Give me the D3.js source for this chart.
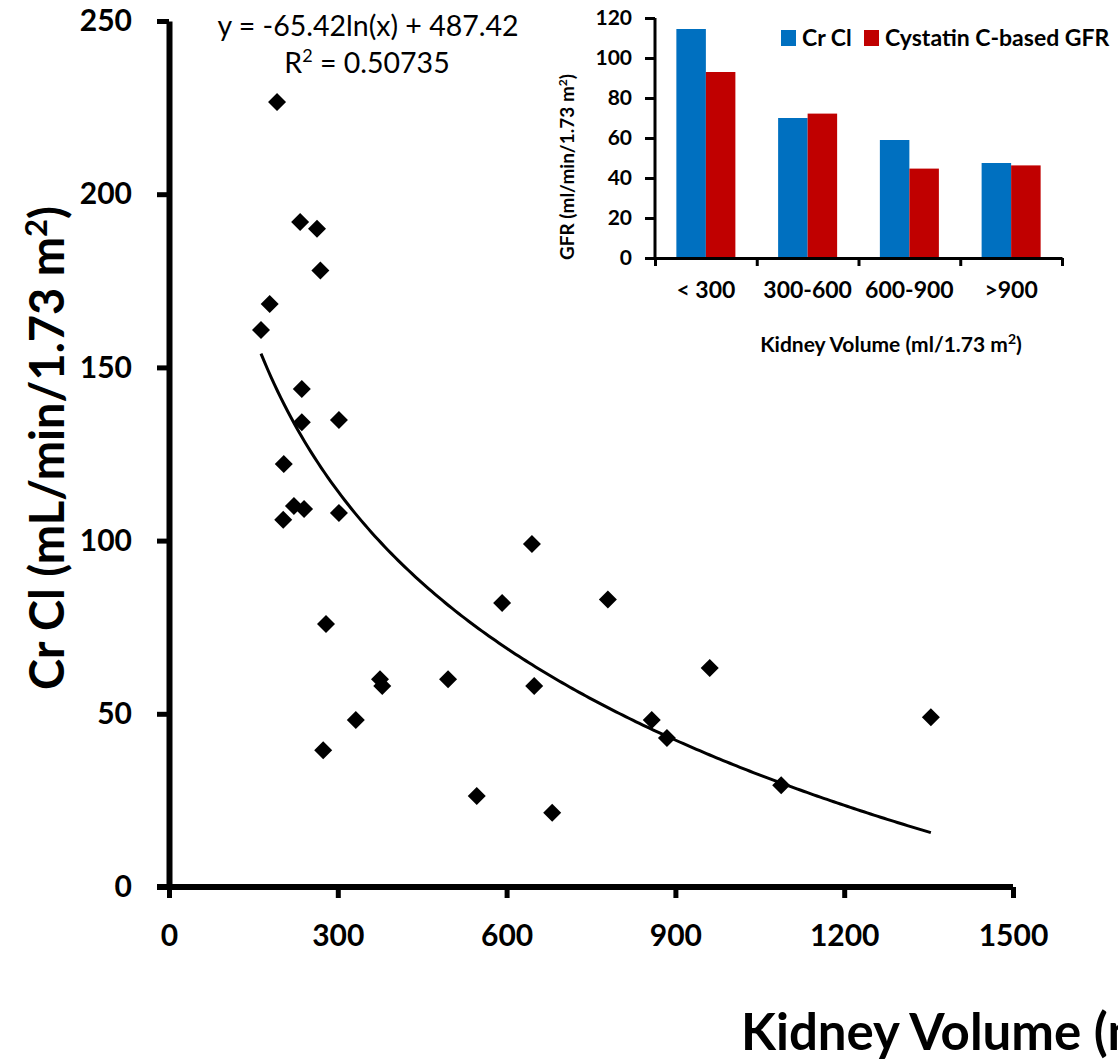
<!DOCTYPE html>
<html>
<head>
<meta charset="utf-8">
<script src="https://cdn.jsdelivr.net/npm/d3@7"></script>
<style>
  body { margin: 0; background: #fff; overflow: hidden; }
  svg { display: block; font-family: Lato, "Open Sans", sans-serif; }
</style>
</head>
<body>
<svg width="1118" height="1061"></svg>
<script>
// scatter data: kidney volume vs creatinine clearance
var volume = [192, 233, 263, 269, 179, 163.5, 236, 236, 302, 204, 222, 240, 203, 302, 279,
              645, 592, 780, 375, 379, 496, 649, 332, 274, 547, 681, 961, 858, 885, 1088, 1354];
var crcl = [226.6, 192, 190, 178, 168.3, 160.8, 143.8, 134.2, 134.8, 122.1, 110, 109.1, 106, 108, 75.9,
            99, 82, 83, 60, 58, 60, 58, 48.2, 39.5, 26.3, 21.4, 63.2, 48.2, 43, 29.4, 49];
var xTicks = [0, 300, 600, 900, 1200, 1500];
var yTicks = [0, 50, 100, 150, 200, 250];
// log trendline  y = a ln(x) + b
var trendA = -65.42, trendB = 487.42;

// inset bar chart
var groups = ['< 300', '300-600', '600-900', '>900'];
var seriesNames = ['Cr Cl', 'Cystatin C-based GFR'];
var crclMean = [114.5, 70, 59, 47.5];
var cystatinMean = [93, 72.2, 44.7, 46.3];
var insetTicks = [0, 20, 40, 60, 80, 100, 120];
var colors = ['#0070C0', '#C00000'];

var svg = d3.select('svg');
var FONT = 'Lato, "Open Sans", sans-serif';

// ---------- main scatter ----------
var x = d3.scaleLinear().domain([0, 1500]).range([169, 1013]);
var y = d3.scaleLinear().domain([0, 250]).range([887, 21]);

var yAxis = svg.append('g')
  .attr('transform', 'translate(169,0)')
  .call(d3.axisLeft(y).tickValues(yTicks).tickSize(12).tickSizeOuter(0).tickPadding(25).tickFormat(d3.format('d')));
var xAxis = svg.append('g')
  .attr('transform', 'translate(0,887)')
  .call(d3.axisBottom(x).tickValues(xTicks).tickSize(11).tickSizeOuter(0).tickPadding(27).tickFormat(d3.format('d')));

[yAxis, xAxis].forEach(function(ax){
  ax.attr('font-family', FONT);
  ax.select('.domain').attr('stroke', '#000').attr('stroke-width', 6);
  ax.selectAll('.tick line').attr('stroke', '#000').attr('stroke-width', 5);
  ax.selectAll('.tick text')
    .attr('fill', '#000')
    .style('font-size', '30px')
    .style('font-weight', 'bold');
});
xAxis.select('.domain').attr('d', 'M157,0H1013');

// trendline
var xs = d3.extent(volume);
var trendPts = d3.range(0, 201).map(function(i){
  var v = xs[0] + (xs[1] - xs[0]) * i / 200;
  return [v, trendA * Math.log(v) + trendB];
});
svg.append('path')
  .datum(trendPts)
  .attr('fill', 'none')
  .attr('stroke', '#000')
  .attr('stroke-width', 3)
  .attr('d', d3.line().x(function(d){ return x(d[0]); }).y(function(d){ return y(d[1]); }));

// diamonds
var diamond = d3.symbol().type(d3.symbolSquare).size(162);
svg.append('g').selectAll('path')
  .data(volume.map(function(v, i){ return [v, crcl[i]]; }))
  .enter().append('path')
  .attr('d', diamond)
  .attr('fill', '#000')
  .attr('transform', function(d){ return 'translate(' + x(d[0]) + ',' + y(d[1]) + ') rotate(45)'; });

// equation
svg.append('text')
  .attr('x', 368).attr('y', 36)
  .attr('text-anchor', 'middle')
  .style('font-size', '28.5px')
  .text('y = -65.42ln(x) + 487.42');
var r2 = svg.append('text')
  .attr('x', 367).attr('y', 73)
  .attr('text-anchor', 'middle')
  .style('font-size', '28.5px');
r2.append('tspan').text('R');
r2.append('tspan').attr('dy', -11).style('font-size', '18px').text('2');
r2.append('tspan').attr('dy', 11).text(' = 0.50735');

// axis titles
var yTitle = svg.append('text')
  .attr('transform', 'translate(64,448) rotate(-90)')
  .attr('text-anchor', 'middle')
  .style('font-size', '47px')
  .style('font-weight', 'bold');
yTitle.append('tspan').text('Cr Cl (mL/min/1.73 m');
yTitle.append('tspan').attr('dy', -17).style('font-size', '31px').text('2');
yTitle.append('tspan').attr('dy', 17).text(')');

var xTitle = svg.append('text')
  .attr('x', 741).attr('y', 1050)
  .style('font-size', '51px')
  .style('font-weight', 'bold');
xTitle.append('tspan').text('Kidney Volume (ml/1.73 m');
xTitle.append('tspan').attr('dy', -18).style('font-size', '33px').text('2');
xTitle.append('tspan').attr('dy', 18).text(')');

// ---------- inset bar chart ----------
var xb = d3.scaleBand().domain(groups).range([655, 1062]).paddingInner(0.42).paddingOuter(0.21);
var xs2 = d3.scaleBand().domain(seriesNames).range([0, xb.bandwidth()]);
var yb = d3.scaleLinear().domain([0, 120]).range([258, 18]);
var edges = d3.scaleLinear().domain([0, groups.length]).range([655, 1062]);

var inset = svg.append('g');
var barData = [];
groups.forEach(function(g, i){
  barData.push({g: g, s: seriesNames[0], v: crclMean[i], c: colors[0]});
  barData.push({g: g, s: seriesNames[1], v: cystatinMean[i], c: colors[1]});
});
inset.selectAll('rect.bar')
  .data(barData)
  .enter().append('rect')
  .attr('class', 'bar')
  .attr('x', function(d){ return xb(d.g) + xs2(d.s); })
  .attr('width', xs2.bandwidth())
  .attr('y', function(d){ return yb(d.v); })
  .attr('height', function(d){ return yb(0) - yb(d.v); })
  .attr('fill', function(d){ return d.c; });

var iy = inset.append('g')
  .attr('transform', 'translate(655,0)')
  .call(d3.axisLeft(yb).tickValues(insetTicks).tickSize(10).tickSizeOuter(0).tickPadding(13));
var ix = inset.append('g')
  .attr('transform', 'translate(0,258)')
  .call(d3.axisBottom(edges).tickValues(d3.range(0, groups.length + 1)).tickSize(8).tickSizeOuter(0).tickFormat(''));
var ixl = inset.append('g')
  .attr('transform', 'translate(0,258)')
  .call(d3.axisBottom(xb).tickSize(0).tickPadding(24));
ixl.select('.domain').remove();

[iy, ix].forEach(function(ax){
  ax.select('.domain').attr('stroke', '#000').attr('stroke-width', 3);
  ax.selectAll('.tick line').attr('stroke', '#000').attr('stroke-width', 3);
});
iy.select('.domain').attr('d', 'M0,18V258');
iy.selectAll('.tick text').style('font-size', '21px');
ixl.selectAll('.tick text').style('font-size', '23px');
[iy, ixl].forEach(function(ax){
  ax.attr('font-family', FONT);
  ax.selectAll('.tick text')
    .attr('fill', '#000')
    .style('font-weight', 'bold');
});

// inset titles
var iyTitle = inset.append('text')
  .attr('transform', 'translate(574,167) rotate(-90)')
  .attr('text-anchor', 'middle')
  .style('font-size', '19px')
  .style('font-weight', 'bold');
iyTitle.append('tspan').text('GFR (ml/min/1.73 m');
iyTitle.append('tspan').attr('dy', -7).style('font-size', '12px').text('2');
iyTitle.append('tspan').attr('dy', 7).text(')');

var ixTitle = inset.append('text')
  .attr('x', 891).attr('y', 352)
  .attr('text-anchor', 'middle')
  .style('font-size', '21px')
  .style('font-weight', 'bold');
ixTitle.append('tspan').text('Kidney Volume (ml/1.73 m');
ixTitle.append('tspan').attr('dy', -8).style('font-size', '14px').text('2');
ixTitle.append('tspan').attr('dy', 8).text(')');

// legend
var legendX = [781, 864];
var lg = inset.append('g').selectAll('g')
  .data(seriesNames)
  .enter().append('g')
  .attr('transform', function(d, i){ return 'translate(' + legendX[i] + ',30)'; });
lg.append('rect').attr('width', 15).attr('height', 16)
  .attr('fill', function(d, i){ return colors[i]; });
lg.append('text')
  .attr('x', 21).attr('y', 16)
  .style('font-size', '23px')
  .style('font-weight', 'bold')
  .text(function(d){ return d; });
</script>
</body>
</html>
